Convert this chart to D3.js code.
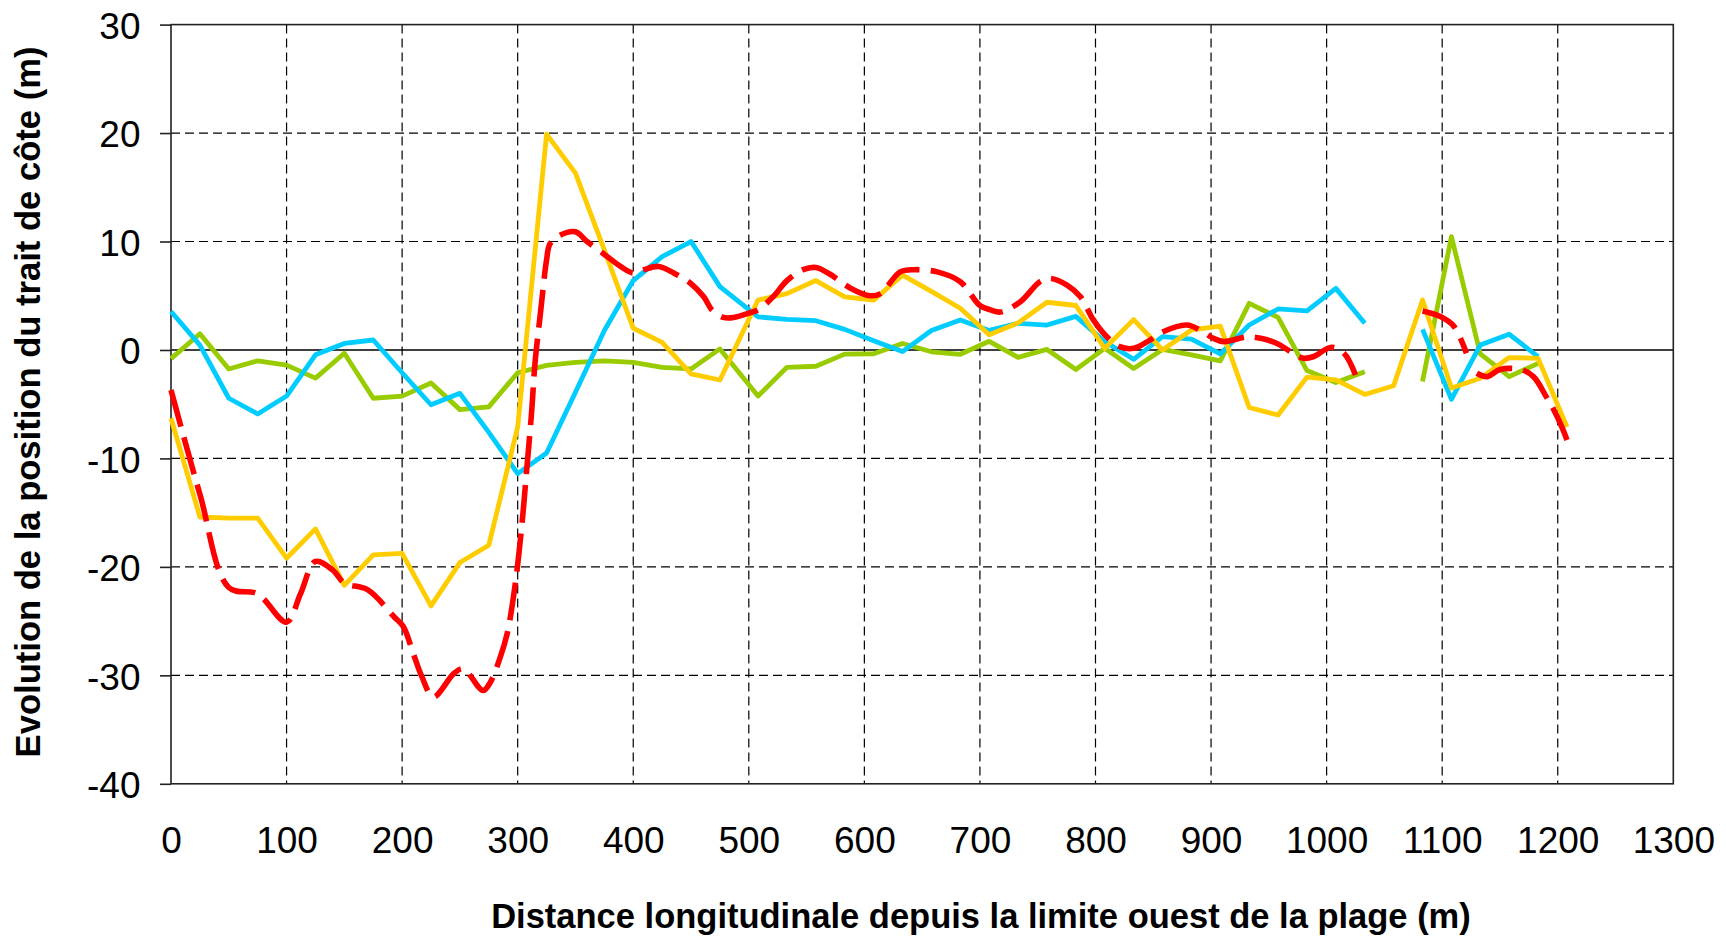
<!DOCTYPE html>
<html>
<head>
<meta charset="utf-8">
<script src="https://cdn.jsdelivr.net/npm/d3@7/dist/d3.min.js"></script>
<style>
  html, body { margin: 0; padding: 0; background: #ffffff; }
  svg { display: block; }
</style>
</head>
<body>
<svg id="chart" width="1726" height="938"></svg>
<script>
// Profile positions along the beach (m)
const distances = [0,25,50,75,100,125,150,175,200,225,250,275,300,325,350,375,400,425,450,475,
  508,533,558,583,608,633,658,683,708,733,758,783,808,833,858,883,908,933,958,983,1008,1033,1058,
  1083,1108,1133,1158,1183,1208];

// Shoreline change per profile (m); null = no measurement
const greenValues = [-0.8,1.5,-1.75,-1.0,-1.4,-2.6,-0.3,-4.45,-4.25,-3.05,-5.5,-5.25,-2.1,-1.42,-1.14,-1.0,-1.14,-1.6,-1.75,0.1,
  -4.25,-1.6,-1.5,-0.38,-0.35,0.6,-0.17,-0.4,0.8,-0.68,0.05,-1.8,0.15,-1.7,0.05,-0.45,-1.0,4.3,3.0,-1.9,-3.0,-2.0,null,
  -2.9,10.45,-0.37,-2.46,-1.23,null];

const cyanValues = [3.55,0.45,-4.45,-5.9,-4.25,-0.45,0.6,0.92,-2.1,-5.05,-4.0,-7.6,-11.4,-9.5,-3.9,1.8,6.4,8.6,10.0,5.84,
  3.05,2.83,2.7,1.9,0.85,-0.15,1.8,2.77,1.8,2.46,2.3,3.1,0.77,-0.86,1.23,1.0,-0.37,2.3,3.78,3.6,5.68,2.46,null,
  1.9,-4.55,0.46,1.45,-0.61,null];

const yellowValues = [-6.3,-15.4,-15.5,-15.5,-19.2,-16.5,-21.7,-18.9,-18.75,-23.6,-19.6,-18.0,-7.1,19.9,16.3,9.2,2.0,0.7,-2.2,-2.77,
  4.6,5.2,6.4,4.9,4.6,6.9,5.4,3.85,1.4,2.5,4.4,4.1,0.15,2.8,0.0,1.85,2.2,-5.3,-6.0,-2.5,-2.75,-4.1,-3.3,
  4.6,-3.5,-2.6,-0.7,-0.77,-7.1];

// Smoothed trend (m), own sampling; null separates the three stretches
const redDistances = [0,25,50,75,100,112,125,140,150,170,193,201,210,217,227,245,253,270,276,285,291,298,304,308,312,315,320,325,328,337,
  350,360,374,389,400,409,422,435,449,461,468,478,487,500,508,521,533,547,558,570,588,605,614,631,643,663,683,700,709,718,
  735,752,761,775,787,798,810,821,833,845,859,879,891,902,911,931,943,957,971,980,989,1004,1015,1025,
  1050,
  1083,1098,1110,1121,
  1125,
  1130,1139,1150,1168,1179,1190,1196,1204,1208];
const redValues = [-3.7,-13.3,-21.9,-22.5,-25.1,-22.5,-19.5,-20.3,-21.5,-22.1,-24.6,-25.5,-28.1,-30.1,-32.0,-29.8,-29.4,-31.4,-30.7,-28.3,-26.1,-21.5,-15.7,-10.8,-5.8,-1.2,3.7,8.3,9.8,10.6,
  10.9,10.0,8.9,7.7,7.1,7.4,7.7,7.1,6.2,4.9,3.7,3.0,3.0,3.4,3.7,4.9,6.4,7.4,7.6,7.0,5.7,5.0,5.2,7.2,7.4,7.2,6.3,4.1,3.7,3.5,
  4.45,6.3,6.6,6.0,4.9,2.8,1.2,0.3,0.15,0.77,1.7,2.3,1.8,1.08,0.77,1.2,1.08,0.6,-0.3,-0.77,-0.6,0.25,-0.3,-2.3,
  null,
  3.6,3.1,2.2,-0.3,
  null,
  -2.15,-2.46,-1.8,-1.8,-2.46,-4.3,-5.4,-7.2,-8.3];

const xTicks = [0,100,200,300,400,500,600,700,800,900,1000,1100,1200,1300];
const yTicks = [30,20,10,0,-10,-20,-30,-40];

const xTitle = "Distance longitudinale depuis la limite ouest de la plage (m)";
const yTitle = "Evolution de la position du trait de côte (m)";

const FONT = "'Liberation Sans', Arial, Helvetica, sans-serif";
const plainNumber = d => String(d);

const svg = d3.select("#chart");
svg.append("rect").attr("width", 1726).attr("height", 938).attr("fill", "#ffffff");

const plotLeft = 171, plotRight = 1673.3, plotTop = 24.6, plotBottom = 783.8;
const x = d3.scaleLinear().domain([0, 1300]).range([plotLeft, plotRight]);
const y = d3.scaleLinear().domain([-40, 30]).range([plotBottom, plotTop]);

// Dashed grid
const grid = svg.append("g").attr("stroke", "#000").attr("stroke-width", 1.2)
  .attr("stroke-dasharray", "9,5").attr("fill", "none");
grid.selectAll("line.v").data(xTicks.filter(t => t > 0 && t < 1300)).join("line")
  .attr("class", "v")
  .attr("x1", d => x(d)).attr("x2", d => x(d))
  .attr("y1", plotTop).attr("y2", plotBottom);
grid.selectAll("line.h").data(yTicks.filter(t => t !== 0 && t !== 30 && t !== -40)).join("line")
  .attr("class", "h")
  .attr("x1", plotLeft).attr("x2", plotRight)
  .attr("y1", d => y(d)).attr("y2", d => y(d));

// Zero line
svg.append("line")
  .attr("x1", plotLeft).attr("x2", plotRight)
  .attr("y1", y(0)).attr("y2", y(0))
  .attr("stroke", "#000").attr("stroke-width", 1.6);

// Plot frame
svg.append("rect")
  .attr("x", plotLeft).attr("y", plotTop)
  .attr("width", plotRight - plotLeft).attr("height", plotBottom - plotTop)
  .attr("fill", "none").attr("stroke", "#222").attr("stroke-width", 1.6);

// Axes
const yAxis = svg.append("g")
  .attr("transform", `translate(${plotLeft},0)`)
  .call(d3.axisLeft(y).tickValues(yTicks).tickFormat(plainNumber).tickSize(11).tickPadding(19.5));
yAxis.select(".domain").remove();
yAxis.selectAll(".tick line").attr("stroke", "#222").attr("stroke-width", 1.6);
yAxis.selectAll(".tick text")
  .attr("font-family", FONT).attr("font-size", 37).attr("fill", "#000")
  .attr("dy", "0.37em");

const xAxis = svg.append("g")
  .attr("transform", `translate(0,${plotBottom})`)
  .call(d3.axisBottom(x).tickValues(xTicks).tickFormat(plainNumber).tickSize(0).tickPadding(0));
xAxis.select(".domain").remove();
xAxis.selectAll(".tick text")
  .attr("font-family", FONT).attr("font-size", 37).attr("fill", "#000")
  .attr("y", 69).attr("dy", 0);

// Axis titles
svg.append("text")
  .attr("x", 981).attr("y", 928)
  .attr("text-anchor", "middle")
  .attr("font-family", FONT).attr("font-size", 34.5).attr("font-weight", "bold")
  .text(xTitle);
svg.append("text")
  .attr("transform", "translate(40,402) rotate(-90)")
  .attr("text-anchor", "middle")
  .attr("font-family", FONT).attr("font-size", 34.6).attr("font-weight", "bold")
  .text(yTitle);

// Series
const toPoints = (xs, vs) => xs.map((d, i) => ({ d, v: vs[i] }));
const straight = d3.line().defined(p => p.v != null).x(p => x(p.d)).y(p => y(p.v));
const smooth = d3.line().defined(p => p.v != null).x(p => x(p.d)).y(p => y(p.v))
  .curve(d3.curveCatmullRom.alpha(0.5));

const plot = svg.append("g").attr("fill", "none")
  .attr("stroke-linejoin", "round");

const series = [
  { values: greenValues, color: "#99cc00" },
  { values: cyanValues, color: "#00ccff" },
  { values: yellowValues, color: "#ffcc00" }
];
series.forEach(s => {
  plot.append("path")
    .attr("d", straight(toPoints(distances, s.values)))
    .attr("stroke", s.color).attr("stroke-width", 4.8);
});

plot.append("path")
  .attr("d", smooth(toPoints(redDistances, redValues)))
  .attr("stroke", "#ff0000").attr("stroke-width", 5.6)
  .attr("stroke-dasharray", "38,11");
</script>
</body>
</html>
